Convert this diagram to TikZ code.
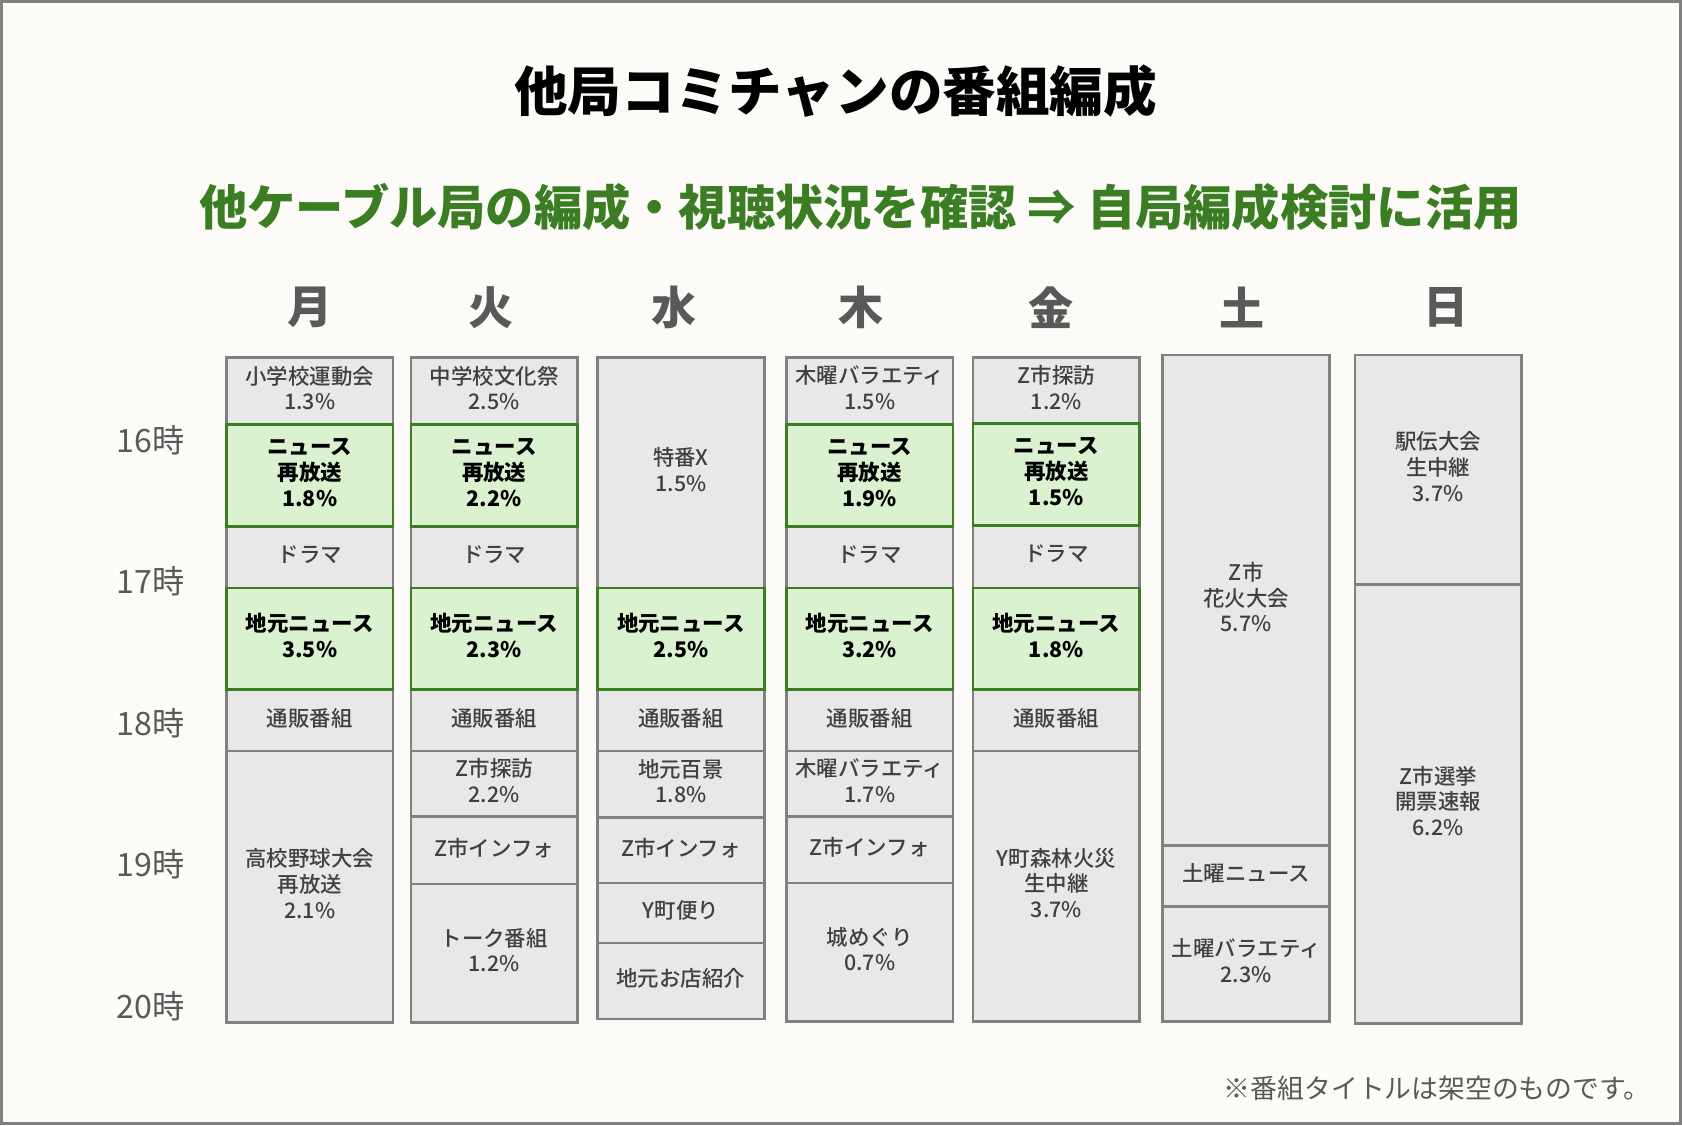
\documentclass[tikz,border=0pt]{standalone}
\usepackage{fontspec}
\setmainfont{Noto Sans CJK JP}
\newfontfamily\progfont{Noto Sans CJK JP Medium}
\definecolor{bgcol}{HTML}{FCFBF8}
\definecolor{framegray}{HTML}{808080}
\definecolor{boxgray}{HTML}{E8E8E8}
\definecolor{linegray}{HTML}{808080}
\definecolor{txtgray}{HTML}{404040}
\definecolor{daygray}{HTML}{595959}
\definecolor{newsfill}{HTML}{DAF2D0}
\definecolor{newsgreen}{HTML}{3B7D23}
\tikzset{
    prog/.style={draw=linegray, fill=boxgray, line width=2.5pt, minimum width=155.5pt, inner sep=1pt,
        text depth=6pt, align=center, text=txtgray, font=\progfont\fontsize{20}{24}\selectfont},
    news/.style={prog, draw=newsgreen, fill=newsfill, text=black, font=\normalfont\bfseries\fontsize{20}{24}\selectfont},
    day/.style={text=daygray, font=\bfseries\fontsize{42}{48}\selectfont},
    hour/.style={text=daygray, font=\fontsize{30}{34}\selectfont}
}
% name, left x, top y, bottom y, style, text
\newcommand{\progslot}[6]{%
    \node[#5, minimum height={(#4-#3)*1pt}] (#1) at ({#2+77.75},{(#3+#4)/2}) {#6};}

\begin{document}
\begin{tikzpicture}[x=1pt, y=-1pt]
    \useasboundingbox (0,0) rectangle (1568,1048.8);
    \fill[bgcol] (0,0) rectangle (1568,1048.8);
    \draw[framegray, line width=2.5pt] (1.5,1.5) rectangle (1566.5,1047.3);

    \node[font=\bfseries\fontsize{50}{56}\selectfont] (title) at (779,85) {他局コミチャンの番組編成};
    \node[text=newsgreen, font=\bfseries\fontsize{45}{50}\selectfont] (subtitle) at (802,193)
        {他ケーブル局の編成・視聴状況を確認 ⇒ 自局編成検討に活用};

    \foreach \d/\x [count=\i] in {月/289,火/458,水/628,木/803,金/980,土/1158,日/1348}
        \node[day] (day\i) at (\x,287) {\d};
    \foreach \h [count=\i from 0] in {16,...,20}
        \node[hour] (hour\h) at (140.5,{410+132*\i}) {\h{}時};

    \progslot{mon1}{211}{333}{396}{prog}{小学校運動会\\1.3\%}
    \progslot{mon3}{211}{491}{548}{prog}{ドラマ}
    \progslot{mon5}{211}{643}{700}{prog}{通販番組}
    \progslot{mon6}{211}{700}{953}{prog}{高校野球大会\\再放送\\2.1\%}
    \progslot{mon2}{211}{396}{491}{news}{ニュース\\再放送\\1.8\%}
    \progslot{mon4}{211}{548}{643}{news}{地元ニュース\\3.5\%}

    \progslot{tue1}{383}{333}{396}{prog}{中学校文化祭\\2.5\%}
    \progslot{tue3}{383}{491}{548}{prog}{ドラマ}
    \progslot{tue5}{383}{643}{700}{prog}{通販番組}
    \progslot{tue6}{383}{700}{761}{prog}{Z市探訪\\2.2\%}
    \progslot{tue7}{383}{761}{824}{prog}{Z市インフォ}
    \progslot{tue8}{383}{824}{953}{prog}{トーク番組\\1.2\%}
    \progslot{tue2}{383}{396}{491}{news}{ニュース\\再放送\\2.2\%}
    \progslot{tue4}{383}{548}{643}{news}{地元ニュース\\2.3\%}

    \progslot{wed1}{557}{333}{548}{prog}{特番X\\1.5\%}
    \progslot{wed3}{557}{643}{700}{prog}{通販番組}
    \progslot{wed4}{557}{700}{762}{prog}{地元百景\\1.8\%}
    \progslot{wed5}{557}{762}{823}{prog}{Z市インフォ}
    \progslot{wed6}{557}{823}{879}{prog}{Y町便り}
    \progslot{wed7}{557}{879}{950}{prog}{地元お店紹介}
    \progslot{wed2}{557}{548}{643}{news}{地元ニュース\\2.5\%}

    \progslot{thu1}{733}{333}{396}{prog}{木曜バラエティ\\1.5\%}
    \progslot{thu3}{733}{491}{548}{prog}{ドラマ}
    \progslot{thu5}{733}{643}{700}{prog}{通販番組}
    \progslot{thu6}{733}{700}{761}{prog}{木曜バラエティ\\1.7\%}
    \progslot{thu7}{733}{761}{823}{prog}{Z市インフォ}
    \progslot{thu8}{733}{823}{952}{prog}{城めぐり\\0.7\%}
    \progslot{thu2}{733}{396}{491}{news}{ニュース\\再放送\\1.9\%}
    \progslot{thu4}{733}{548}{643}{news}{地元ニュース\\3.2\%}

    \progslot{fri1}{907}{333}{395}{prog}{Z市探訪\\1.2\%}
    \progslot{fri3}{907}{490}{548}{prog}{ドラマ}
    \progslot{fri5}{907}{643}{700}{prog}{通販番組}
    \progslot{fri6}{907}{700}{952}{prog}{Y町森林火災\\生中継\\3.7\%}
    \progslot{fri2}{907}{395}{490}{news}{ニュース\\再放送\\1.5\%}
    \progslot{fri4}{907}{548}{643}{news}{地元ニュース\\1.8\%}

    \progslot{sat1}{1084}{331}{788}{prog}{Z市\\花火大会\\5.7\%}
    \progslot{sat2}{1084}{788}{845}{prog}{土曜ニュース}
    \progslot{sat3}{1084}{845}{952}{prog}{土曜バラエティ\\2.3\%}

    \progslot{sun1}{1263}{331}{545}{prog}{駅伝大会\\生中継\\3.7\%}
    \progslot{sun2}{1263}{545}{954}{prog}{Z市選挙\\開票速報\\6.2\%}

    \node[anchor=east, text=daygray, font=\fontsize{25}{29}\selectfont] (note) at (1542,1015)
        {※番組タイトルは架空のものです。};
\end{tikzpicture}
\end{document}
